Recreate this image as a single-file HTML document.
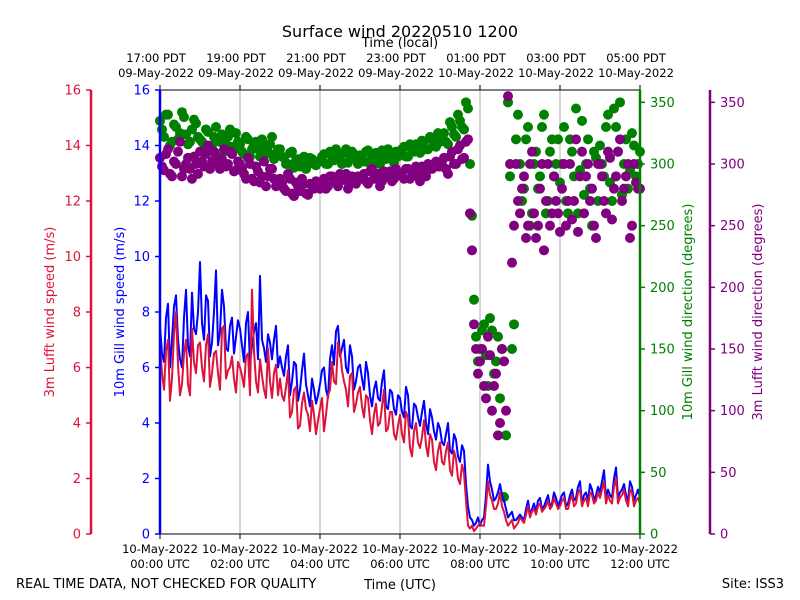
<!DOCTYPE html>
<html><head><meta charset="utf-8">
<style>
html,body{margin:0;padding:0;background:#fff;}
svg{display:block;font-family:"DejaVu Sans","Liberation Sans",sans-serif;}
</style></head>
<body>
<svg id="chart" width="800" height="600" viewBox="0 0 800 600" xmlns="http://www.w3.org/2000/svg">
<rect x="0" y="0" width="800" height="600" fill="#fff"/>
<text x="400" y="37" font-size="16" text-anchor="middle">Surface wind 20220510 1200</text>
<text x="400" y="47" font-size="13" text-anchor="middle">Time (local)</text>
<text x="400" y="589" font-size="13" text-anchor="middle">Time (UTC)</text>
<text x="16" y="588" font-size="13">REAL TIME DATA, NOT CHECKED FOR QUALITY</text>
<text x="784" y="588" font-size="13" text-anchor="end">Site: ISS3</text>
<g id="grid"></g>
<g id="marks"></g>
<g id="axes"></g>
</svg>
<script>
const hoursGrid = [0,2,4,6,8,10,12];
const bottomTickLine1 = ["10-May-2022","10-May-2022","10-May-2022","10-May-2022","10-May-2022","10-May-2022","10-May-2022"];
const bottomTickLine2 = ["00:00 UTC","02:00 UTC","04:00 UTC","06:00 UTC","08:00 UTC","10:00 UTC","12:00 UTC"];
const topTickLine1 = ["17:00 PDT","19:00 PDT","21:00 PDT","23:00 PDT","01:00 PDT","03:00 PDT","05:00 PDT"];
const topTickLine2 = ["09-May-2022","09-May-2022","09-May-2022","09-May-2022","10-May-2022","10-May-2022","10-May-2022"];
const speedTicks = [0,2,4,6,8,10,12,14,16];
const dirTicks = [0,50,100,150,200,250,300,350];
const sampleStepHours = 0.1;
const gillSpeed = [
7.5,6.2,8.3,7.0,8.6,6.3,7.8,6.8,8.7,7.2,
9.8,7.0,8.4,6.9,9.5,7.3,8.2,6.6,7.8,7.1,
7.4,6.2,8.0,6.8,7.6,9.3,6.7,7.2,6.3,7.5,
6.4,5.7,6.8,5.5,6.1,5.2,6.5,5.0,5.6,4.7,
5.4,6.0,4.9,6.8,7.3,6.4,7.0,5.8,6.4,5.5,
6.1,5.2,5.8,4.6,5.5,4.8,5.9,4.5,5.1,4.3,
4.9,4.2,5.0,3.8,4.6,3.9,4.8,3.6,4.2,3.4,
3.8,3.2,4.0,2.9,3.4,2.6,3.0,1.0,0.5,0.4,
0.3,0.6,2.5,1.6,1.3,1.8,1.2,0.6,0.8,0.5,
0.7,0.5,1.2,0.9,0.8,1.3,1.0,1.4,1.1,1.3,
1.2,1.5,1.1,1.6,1.3,1.9,1.4,1.2,1.6,1.4,
1.5,2.3,1.6,1.3,2.4,1.5,1.8,1.2,1.7,1.4,
1.3];
const gillSpeedMid = [
6.5,7.8,6.0,8.2,7.0,6.0,8.8,6.4,7.4,8.0,
7.6,8.6,6.4,8.0,6.8,8.8,6.7,7.5,6.5,7.7,
6.8,7.6,6.1,7.3,6.3,7.0,6.2,6.9,7.0,6.0,
6.0,6.4,5.0,6.2,4.8,5.9,5.4,4.6,5.2,5.0,
5.9,5.2,6.3,6.1,7.5,6.7,6.0,6.8,5.2,6.0,
5.6,6.2,5.0,5.2,4.9,5.5,4.6,5.2,4.5,5.0,
4.4,5.3,3.9,4.7,4.2,4.4,4.0,4.5,3.7,4.0,
3.3,3.6,3.0,3.6,2.8,3.2,1.8,0.6,0.3,0.6,
0.5,1.4,1.9,1.2,1.5,1.4,0.9,0.7,0.5,0.6,
0.6,0.9,0.7,1.1,1.2,0.9,1.2,1.0,1.5,1.0,
1.4,1.0,1.4,1.2,1.7,1.1,1.5,1.8,1.2,1.7,
1.9,1.3,1.4,2.0,1.3,1.6,1.4,1.9,1.2,1.6];
const lufftSpeed = [
6.8,5.2,7.0,5.6,8.0,5.0,6.5,5.4,7.4,5.8,
6.9,5.5,7.2,5.8,6.6,5.2,7.5,5.9,6.4,5.1,
6.0,5.3,6.5,8.8,5.5,6.3,5.2,6.7,4.9,6.1,
5.6,4.8,5.9,4.4,5.3,3.9,5.1,4.3,4.8,3.6,
4.5,3.7,5.0,6.2,5.4,6.6,5.5,4.6,5.8,4.7,
5.3,4.2,4.9,3.6,4.7,4.0,5.2,3.8,4.4,3.4,
4.3,3.3,4.2,2.8,4.0,3.1,4.1,2.8,3.4,2.3,
3.3,2.5,3.3,2.1,2.7,1.8,2.2,0.3,0.3,0.2,
0.4,0.3,1.9,1.2,0.9,1.5,0.8,0.3,0.5,0.3,
0.6,0.4,1.0,0.8,0.7,1.1,0.9,1.2,1.0,1.1,
1.0,1.3,0.9,1.4,1.1,1.6,1.2,1.0,1.4,1.2,
1.3,1.9,1.4,1.1,2.0,1.3,1.6,1.0,1.5,1.2,
1.1];
const lufftSpeedMid = [
5.8,6.6,4.8,7.2,6.1,5.4,7.0,5.0,6.2,6.8,
6.0,6.8,5.3,6.5,5.8,7.4,5.6,6.0,5.6,6.2,
5.7,6.4,5.0,6.6,5.1,5.7,4.9,5.5,5.8,5.0,
5.0,5.3,4.2,5.2,3.8,4.7,4.5,3.7,4.3,4.1,
4.9,4.3,5.2,5.5,6.9,5.9,5.2,5.7,4.4,5.1,
4.6,5.0,4.1,4.3,3.9,4.6,3.7,4.4,3.6,3.9,
3.6,4.4,3.1,3.7,3.3,3.5,3.2,3.6,2.6,3.0,
2.6,3.0,2.3,3.0,2.0,2.5,1.2,0.2,0.1,0.3,
0.3,1.0,1.4,0.9,1.1,1.0,0.5,0.4,0.2,0.4,
0.5,0.7,0.6,0.9,1.0,0.8,1.0,0.9,1.3,0.9,
1.2,0.9,1.2,1.0,1.5,1.0,1.3,1.5,1.1,1.5,
1.6,1.1,1.2,1.7,1.1,1.4,1.2,1.6,1.0,1.3];
const gillDir = [
335,322,340,318,330,325,338,316,328,333,
320,312,326,315,330,318,310,322,314,325,
316,308,320,312,318,306,315,310,322,308,
312,305,300,310,303,298,306,301,304,299,
302,308,300,306,312,304,309,301,310,305,
307,302,311,305,309,300,306,312,304,310,
308,314,306,311,316,309,318,312,320,314,
318,325,316,330,322,335,328,345,258,160,
150,170,120,165,140,110,30,350,150,320,
300,280,330,260,310,290,340,270,320,300,
285,330,260,310,345,295,275,320,250,305,
315,290,340,270,330,350,300,280,325,290,
310];
const gillDirMid = [
328,340,315,332,320,342,324,318,336,322,
318,328,312,322,308,324,316,328,312,318,
310,322,306,316,312,320,308,316,304,312,
306,300,309,297,304,300,296,305,300,302,
306,300,310,303,307,300,312,304,308,300,
304,310,300,308,303,311,304,308,301,306,
312,306,316,310,314,319,312,322,316,325,
322,318,334,324,340,330,350,300,190,140,
165,145,175,130,160,150,80,290,170,340,
270,320,250,300,280,330,260,310,290,320,
300,270,320,290,260,335,300,280,310,270,
300,330,285,345,310,275,320,295,315,300];
const lufftDir = [
305,295,312,290,300,318,296,305,288,300,
310,298,315,302,306,296,312,300,308,295,
300,292,305,288,298,285,302,290,296,282,
288,280,292,276,285,278,284,275,282,286,
280,288,282,290,285,292,287,280,290,284,
288,292,284,296,288,282,294,290,286,296,
292,288,296,290,298,286,294,300,296,302,
298,305,292,310,300,315,305,320,230,150,
140,120,160,100,130,90,140,355,220,300,
260,290,250,310,240,280,230,300,260,270,
245,300,270,255,320,290,260,300,280,240,
300,270,310,255,290,320,280,300,250,285,
280];
const lufftDirMid = [
298,308,292,302,310,290,300,296,306,292,
302,308,296,310,300,304,298,310,294,302,
296,288,300,286,294,290,282,296,288,284,
284,278,288,274,282,288,276,284,280,282,
284,280,290,286,282,288,292,284,286,290,
290,286,294,288,292,286,290,294,288,292,
290,296,288,294,292,298,290,296,300,298,
302,296,306,300,312,304,318,260,170,130,
150,110,145,120,80,150,100,300,250,270,
280,240,300,260,250,300,270,250,290,260,
280,250,300,270,245,310,290,270,250,300,
290,260,305,280,310,270,290,240,300,280];

const NS = "http://www.w3.org/2000/svg";
const X0 = 160, X1 = 640, Y0 = 534, Y1 = 90;
const xScale = h => X0 + (h / 12) * (X1 - X0);
const ySpeed = v => Y0 - (v / 16) * (Y0 - Y1);
const yDir = d => Y0 - (d / 360) * (Y0 - Y1);
function mk(tag, attrs, parent, text) {
  const e = document.createElementNS(NS, tag);
  for (const k in attrs) e.setAttribute(k, attrs[k]);
  if (text !== undefined) e.textContent = text;
  parent.appendChild(e);
  return e;
}
const grid = document.getElementById('grid');
const marks = document.getElementById('marks');
const axes = document.getElementById('axes');

hoursGrid.forEach((h, i) => {
  if (i > 0 && i < hoursGrid.length - 1) {
    const g = mk('line', {x1: xScale(h), x2: xScale(h), y1: Y1, y2: Y0, stroke: '#b0b0b0', 'stroke-width': 1}, grid);
    
    
  }
});

function series(main, mid) {
  const out = [];
  main.forEach((v, i) => {
    out.push([i * sampleStepHours, v]);
    if (i < mid.length) out.push([i * sampleStepHours + sampleStepHours / 2, mid[i]]);
  });
  return out;
}
function drawScatter(pts, color, name) {
  const g = mk('g', {}, marks);
  
  
  pts.forEach(p => {
    const c = mk('circle', {cx: xScale(p[0]), cy: yDir(p[1]), r: 5, fill: color}, g);
    
    
  });
}
function drawLine(pts, color, name) {
  const s = pts.map(p => xScale(p[0]).toFixed(1) + ',' + ySpeed(p[1]).toFixed(1)).join(' ');
  const p = mk('polyline', {points: s, fill: 'none', stroke: color, 'stroke-width': 2, 'stroke-linejoin': 'round'}, marks);
  
  
}
drawScatter(series(gillDir, gillDirMid), '#008000', 'gill-direction-series');
drawScatter(series(lufftDir, lufftDirMid), '#800080', 'lufft-direction-series');
drawLine(series(gillSpeed, gillSpeedMid), '#0000ff', 'gill-speed-line');
drawLine(series(lufftSpeed, lufftSpeedMid), '#dc143c', 'lufft-speed-line');

mk('line', {x1: X0, x2: X1, y1: Y1, y2: Y1, stroke: '#000', 'stroke-width': 1}, axes);
mk('line', {x1: X0, x2: X1, y1: Y0, y2: Y0, stroke: '#000', 'stroke-width': 1}, axes);

hoursGrid.forEach((h, i) => {
  const x = xScale(h);
  mk('line', {x1: x, x2: x, y1: Y0, y2: Y0 + 5, stroke: '#000'}, axes);
  mk('line', {x1: x, x2: x, y1: Y1, y2: Y1 - 5, stroke: '#000'}, axes);
  let t = mk('text', {x: x, y: 553, 'font-size': 11.5, 'text-anchor': 'middle'}, axes, bottomTickLine1[i]);
  
  
  t = mk('text', {x: x, y: 568, 'font-size': 11.5, 'text-anchor': 'middle'}, axes, bottomTickLine2[i]);
  
  
  t = mk('text', {x: x - 4, y: 62, 'font-size': 11.5, 'text-anchor': 'middle'}, axes, topTickLine1[i]);
  
  
  t = mk('text', {x: x - 4, y: 77, 'font-size': 11.5, 'text-anchor': 'middle'}, axes, topTickLine2[i]);
  
  
});

function vAxis(x, color, ticks, scale, side, title, titleX, name) {
  const g = mk('g', {}, axes);
  
  
  mk('line', {x1: x, x2: x, y1: Y1, y2: Y0, stroke: color, 'stroke-width': 2.5}, g);
  ticks.forEach(v => {
    const y = scale(v);
    const dx = side === 'left' ? -5 : 5;
    mk('line', {x1: x, x2: x + dx, y1: y, y2: y, stroke: color, 'stroke-width': 1.5}, g);
    const t = mk('text', {x: x + dx * 2, y: y + 4.5, 'font-size': 13, fill: color, 'text-anchor': side === 'left' ? 'end' : 'start'}, g, String(v));
    
    
  });
  const tt = mk('text', {x: titleX, y: (Y0 + Y1) / 2, 'font-size': 13, fill: color, 'text-anchor': 'middle', transform: 'rotate(-90 ' + titleX + ' ' + ((Y0 + Y1) / 2) + ')'}, g, title);
  
  
}
vAxis(91, '#dc143c', speedTicks, ySpeed, 'left', '3m Lufft wind speed (m/s)', 54, 'lufft-speed-axis');
vAxis(160, '#0000ff', speedTicks, ySpeed, 'left', '10m Gill wind speed (m/s)', 124, 'gill-speed-axis');
vAxis(640, '#008000', dirTicks, yDir, 'right', '10m Gill wind direction (degrees)', 692, 'gill-direction-axis');
vAxis(710, '#800080', dirTicks, yDir, 'right', '3m Lufft wind direction (degrees)', 762, 'lufft-direction-axis');
</script>
</body></html>
